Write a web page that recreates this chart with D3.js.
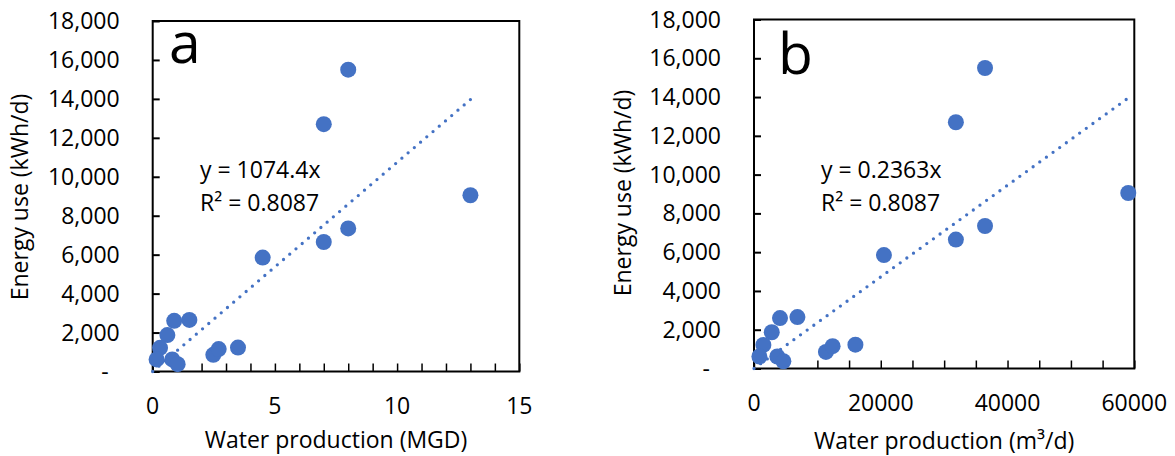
<!DOCTYPE html>
<html>
<head>
<meta charset="utf-8">
<script src="https://cdn.jsdelivr.net/npm/d3@7"></script>
<style>
  html, body { margin: 0; padding: 0; background: #fff; }
  svg { display: block; }
  text { font-family: "Open Sans", sans-serif; fill: #000; }
</style>
</head>
<body>
<svg id="chart" width="1175" height="456"></svg>
<script>
// ---- data ----
const energyUse = [15500, 12700, 9050, 7350, 6650, 5850, 2600, 2650, 1870, 1215, 620, 620, 375, 855, 1150, 1230];
const waterMGD  = [8, 7, 13, 8, 7, 4.5, 0.88, 1.5, 0.6, 0.3, 0.16, 0.8, 1.02, 2.48, 2.7, 3.49];
const waterM3d  = [36450, 31850, 59050, 36450, 31850, 20500, 4100, 6850, 2800, 1480, 850, 3680, 4630, 11350, 12400, 16000];

const yTickValues = [0, 2000, 4000, 6000, 8000, 10000, 12000, 14000, 16000, 18000];
const xTicksA = d3.range(0, 16, 1);
const xLabelsA = [0, 5, 10, 15];
const xTicksB = d3.range(0, 60001, 5000);
const xLabelsB = [0, 20000, 40000, 60000];

const slopeA = 1074.4, r2A = 0.8087;
const slopeB = 0.2363, r2B = 0.8087;

const blue = "#4472C4";
const svg = d3.select("#chart");
const fmtY = d => d === 0 ? "-" : d3.format(",")(d);

function panel(cfg) {
  const g = svg.append("g");
  const x = d3.scaleLinear().domain(cfg.xDomain).range([cfg.left, cfg.right]);
  const y = d3.scaleLinear().domain([0, 18000]).range([cfg.bottom, cfg.top]);

  // frame
  g.append("rect")
    .attr("x", cfg.left).attr("y", cfg.top)
    .attr("width", cfg.right - cfg.left).attr("height", cfg.bottom - cfg.top)
    .attr("fill", "none").attr("stroke", "#000").attr("stroke-width", 2);

  // y axis: inside ticks, labels placed away from axis
  const yAxis = d3.axisLeft(y).tickValues(yTickValues).tickSize(-7).tickPadding(0).tickFormat("");
  const ya = g.append("g").attr("transform", `translate(${cfg.left},0)`).call(yAxis);
  ya.select(".domain").remove();
  ya.selectAll(".tick line").attr("stroke", "#000").attr("stroke-width", 2);
  g.append("g").selectAll("text").data(yTickValues).join("text")
    .attr("x", d => d === 0 ? cfg.left - 44 : cfg.left - 33)
    .attr("y", d => y(d)).attr("dy", "0.35em")
    .attr("text-anchor", "end").attr("font-size", 23)
    .text(fmtY);

  // x axis: inside ticks
  const xAxis = d3.axisBottom(x).tickValues(cfg.xTicks).tickSize(-8).tickFormat("");
  const xa = g.append("g").attr("transform", `translate(0,${cfg.bottom})`).call(xAxis);
  xa.select(".domain").remove();
  xa.selectAll(".tick line").attr("stroke", "#000").attr("stroke-width", 1.5);
  g.append("g").selectAll("text").data(cfg.xLabels).join("text")
    .attr("x", d => x(d)).attr("y", cfg.xLabelBase)
    .attr("text-anchor", "middle").attr("font-size", 23)
    .text(d => String(d));

  // trendline (dotted), under the points
  const xmax = d3.max(cfg.xs);
  g.append("line")
    .attr("x1", x(0)).attr("y1", y(0))
    .attr("x2", x(xmax)).attr("y2", y(cfg.slope * xmax))
    .attr("stroke", blue).attr("stroke-width", 3.3)
    .attr("stroke-linecap", "round").attr("stroke-dasharray", "0 8.2");

  // points
  g.append("g").selectAll("circle").data(cfg.xs.map((v, i) => [v, energyUse[i]])).join("circle")
    .attr("cx", d => x(d[0])).attr("cy", d => y(d[1])).attr("r", 8)
    .attr("fill", blue);

  // equation
  g.append("text").attr("x", cfg.eqX).attr("y", 177.5).attr("font-size", 23)
    .text(`y = ${cfg.slopeText}x`);
  g.append("text").attr("x", cfg.eqX).attr("y", 211).attr("font-size", 23)
    .text(`R² = ${cfg.r2.toFixed(4)}`);

  // panel letter
  g.append("text").attr("x", cfg.letterX).attr("y", cfg.letterY).attr("font-size", 57)
    .text(cfg.letter);

  // axis titles
  g.append("text")
    .attr("transform", `translate(${cfg.yTitleX},${cfg.yTitleY}) rotate(-90)`)
    .attr("text-anchor", "middle").attr("font-size", 23)
    .text("Energy use (kWh/d)");
  g.append("text")
    .attr("x", (cfg.left + cfg.right) / 2).attr("y", cfg.xTitleBase)
    .attr("text-anchor", "middle").attr("font-size", 23)
    .text(cfg.xTitle);
}

panel({
  left: 152.7, right: 519.3, top: 21, bottom: 371.5,
  xDomain: [0, 15], xTicks: xTicksA, xLabels: xLabelsA, xs: waterMGD,
  slope: slopeA, slopeText: "1074.4", r2: r2A,
  eqX: 200, letter: "a", letterX: 169, letterY: 63,
  yTitleX: 28, yTitleY: 197, xLabelBase: 414.3, xTitleBase: 448,
  xTitle: "Water production (MGD)"
});
panel({
  left: 754, right: 1134.3, top: 19.5, bottom: 368.5,
  xDomain: [0, 60000], xTicks: xTicksB, xLabels: xLabelsB, xs: waterM3d,
  slope: slopeB, slopeText: "0.2363", r2: r2B,
  eqX: 821, letter: "b", letterX: 778, letterY: 74,
  yTitleX: 631, yTitleY: 193, xLabelBase: 411, xTitleBase: 449,
  xTitle: "Water production (m³/d)"
});
</script>
</body>
</html>
